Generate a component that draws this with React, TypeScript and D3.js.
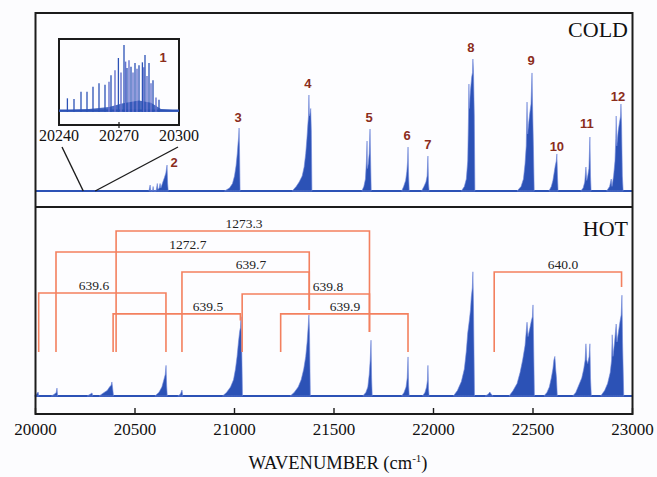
import React from "react";
import * as d3 from "d3";

// ---------- data ----------
const xTicks = [20000, 20500, 21000, 21500, 22000, 22500, 23000];
const insetTicks = [20240, 20270, 20300];

type P = [number, number];

// COLD spectrum band profiles [wavenumber, intensity]
const coldBand2: P[] = [[20570,0],[20576,0.04],[20579,0],[20588,0],[20591,0.03],[20594,0],[20606,0],[20612,0.05],[20615,0.01],[20622,0.02],[20626,0.05],[20630,0.02],[20640,0.06],[20648,0.09],[20655,0.12],[20661,0.173],[20664,0.05],[20667,0]];
const coldBand3: P[] = [[20950,0],[20975,0.02],[20990,0.05],[21000,0.1],[21008,0.17],[21014,0.25],[21018,0.32],[21021,0.36],[21023,0.42],[21025,0.3],[21028,0]];
const coldBand4: P[] = [[21290,0],[21310,0.03],[21325,0.06],[21340,0.1],[21350,0.16],[21358,0.25],[21364,0.35],[21369,0.45],[21372,0.5],[21374,0.64],[21376,0.5],[21380,0.52],[21383,0.55],[21386,0.4],[21389,0]];
const coldBand5: P[] = [[21640,0],[21650,0.03],[21658,0.08],[21663,0.2],[21666,0.333],[21668,0.15],[21672,0.18],[21677,0.25],[21681,0.413],[21684,0.2],[21687,0]];
const coldBand6: P[] = [[21840,0],[21850,0.03],[21860,0.07],[21866,0.13],[21870,0.2],[21872,0.293],[21875,0.1],[21878,0]];
const coldBand7: P[] = [[21940,0],[21952,0.03],[21962,0.06],[21968,0.1],[21972,0.233],[21975,0.05],[21978,0]];
const coldBand8: P[] = [[22140,0],[22155,0.03],[22165,0.08],[22172,0.2],[22176,0.5],[22178,0.713],[22180,0.55],[22185,0.66],[22192,0.76],[22196,0.79],[22198,0.88],[22201,0.8],[22205,0.5],[22208,0]];
const coldBand9: P[] = [[22420,0],[22440,0.03],[22452,0.08],[22460,0.18],[22466,0.3],[22470,0.593],[22473,0.38],[22478,0.45],[22484,0.52],[22490,0.58],[22495,0.787],[22498,0.56],[22502,0.3],[22506,0]];
const coldBand10: P[] = [[22580,0],[22592,0.03],[22600,0.07],[22606,0.12],[22612,0.17],[22617,0.2],[22620,0.247],[22623,0.1],[22626,0]];
const coldBand11: P[] = [[22740,0],[22752,0.02],[22760,0.06],[22766,0.16],[22770,0.07],[22775,0.1],[22781,0.15],[22786,0.36],[22789,0.1],[22792,0]];
const coldBand12: P[] = [[22870,0],[22885,0.03],[22893,0.08],[22897,0.03],[22905,0.1],[22912,0.2],[22916,0.35],[22918,0.5],[22921,0.3],[22928,0.4],[22935,0.46],[22940,0.5],[22942,0.58],[22945,0.45],[22949,0.1],[22953,0]];
const coldBands = [coldBand2, coldBand3, coldBand4, coldBand5, coldBand6, coldBand7, coldBand8, coldBand9, coldBand10, coldBand11, coldBand12];

// COLD band labels
const coldLabelText = ["2", "3", "4", "5", "6", "7", "8", "9", "10", "11", "12"];
const coldLabelWn = [20696, 21018, 21369, 21676, 21867, 21972, 22188, 22490, 22620, 22771, 22927];
const coldLabelI = [0.193, 0.493, 0.72, 0.487, 0.367, 0.313, 0.96, 0.867, 0.3, 0.453, 0.633];

// HOT spectrum band profiles
const hotBands: P[][] = [
  [[19995,0],[20005,0.01],[20013,0.022],[20017,0]],
  [[20080,0],[20095,0.01],[20104,0.02],[20108,0.044],[20111,0]],
  [[20260,0],[20275,0.01],[20284,0.017],[20288,0]],
  [[20320,0],[20345,0.02],[20360,0.03],[20372,0.05],[20380,0.06],[20384,0.078],[20388,0.04],[20392,0]],
  [[20600,0],[20620,0.02],[20635,0.05],[20645,0.09],[20652,0.12],[20656,0.17],[20659,0.06],[20662,0]],
  [[20715,0],[20728,0.01],[20736,0.033],[20740,0]],
  [[20940,0],[20960,0.02],[20980,0.05],[20995,0.09],[21005,0.15],[21013,0.22],[21020,0.3],[21026,0.36],[21030,0.38],[21033,0.44],[21036,0.3],[21040,0]],
  [[21280,0],[21300,0.02],[21320,0.05],[21335,0.09],[21348,0.15],[21358,0.22],[21365,0.3],[21370,0.38],[21374,0.45],[21377,0.35],[21381,0]],
  [[21645,0],[21660,0.02],[21670,0.05],[21677,0.12],[21682,0.2],[21686,0.31],[21689,0.1],[21692,0]],
  [[21840,0],[21852,0.02],[21862,0.05],[21868,0.1],[21872,0.217],[21875,0.06],[21878,0]],
  [[21945,0],[21957,0.02],[21965,0.05],[21970,0.09],[21972,0.17],[21975,0.04],[21978,0]],
  [[22100,0],[22120,0.03],[22140,0.08],[22155,0.15],[22165,0.25],[22172,0.35],[22180,0.42],[22186,0.48],[22190,0.55],[22195,0.6],[22198,0.69],[22201,0.5],[22206,0]],
  [[22260,0],[22275,0.01],[22283,0.022],[22290,0.01],[22300,0]],
  [[22380,0],[22400,0.03],[22420,0.07],[22435,0.13],[22448,0.2],[22460,0.28],[22470,0.41],[22475,0.33],[22485,0.38],[22492,0.42],[22497,0.44],[22500,0.506],[22503,0.3],[22507,0]],
  [[22555,0],[22570,0.02],[22582,0.05],[22592,0.1],[22600,0.15],[22605,0.2],[22610,0.22],[22614,0.15],[22618,0.1],[22622,0]],
  [[22700,0],[22715,0.02],[22730,0.06],[22745,0.1],[22755,0.15],[22762,0.2],[22766,0.29],[22770,0.2],[22775,0.18],[22782,0.22],[22786,0.29],[22789,0.1],[22793,0]],
  [[22840,0],[22860,0.03],[22875,0.07],[22888,0.13],[22895,0.2],[22898,0.34],[22902,0.22],[22910,0.3],[22918,0.4],[22922,0.3],[22930,0.36],[22938,0.42],[22943,0.45],[22947,0.56],[22950,0.3],[22956,0]],
];

// HOT progression brackets
const bracketLabel = ["1273.3", "1272.7", "639.7", "639.6", "639.8", "639.5", "639.9", "640.0"];
const bracketStart = [20405, 20103, 20736, 20016, 21038.5, 20390, 21232, 22305];
const bracketSpan = [1273.3, 1272.7, 639.7, 639.6, 639.8, 639.5, 639.9, 640.0];
const bracketLevel = [0.917, 0.8, 0.689, 0.572, 0.567, 0.456, 0.456, 0.689];
const bracketLeftEnd = [0.244, 0.244, 0.244, 0.244, 0.244, 0.244, 0.244, 0.244];
const bracketRightEnd = [0.356, 0.478, 0.478, 0.244, 0.356, 0.42, 0.244, 0.606];
const bracketLabelWn = [21048, 20766, 21083, 20294, 21470, 20867, 21555, 22651];

// Inset (band 1) rotational lines
const insetLineWn = [20244.2, 20247.5, 20251, 20254, 20257, 20260, 20263, 20266, 20269.7, 20272.5, 20274, 20276, 20278, 20280, 20281.7, 20283, 20285, 20287, 20290];
const insetLineI = [0.19, 0.18, 0.28, 0.28, 0.35, 0.4, 0.38, 0.51, 0.75, 0.93, 0.61, 0.63, 0.68, 0.65, 0.69, 0.79, 0.68, 0.44, 0.17];
const insetLine2Wn = [20265, 20268, 20271, 20273.3, 20275, 20277, 20279, 20282.4, 20284, 20286, 20288.5];
const insetLine2I = [0.42, 0.58, 0.55, 0.7, 0.72, 0.55, 0.6, 0.62, 0.5, 0.4, 0.2];
const insetEnvelope: P[] = [[20240,0.02],[20255,0.04],[20265,0.07],[20272,0.12],[20280,0.16],[20286,0.13],[20291,0.04],[20300,0.02]];

// ---------- styles ----------
const BLUE = "#2c52b6";
const BLUE_L = "#6f86da";
const PURPLE = "#6673cf";
const ORANGE = "#f3805f";
const DARKRED = "#8b2d1c";
const FRAME = "#1c1c1c";
const SERIF = "'Liberation Serif', 'Times New Roman', serif";
const SANS = "'Liberation Sans', Arial, sans-serif";

export default function App() {
  const W = 657, H = 477;
  const L = 35.5, R = 632.5, T = 13, MID = 207, B = 414;
  const x = d3.scaleLinear().domain([20000, 23000]).range([L, R]);
  const yC = d3.scaleLinear().domain([0, 1]).range([191, 41]);
  const yH = d3.scaleLinear().domain([0, 1]).range([396, 216]);
  const ix = d3.scaleLinear().domain([20240, 20300]).range([59, 179]);
  const iy = d3.scaleLinear().domain([0, 1]).range([112, 40]);

  const areaC = d3.area<P>().x(d => x(d[0])).y0(yC(0)).y1(d => yC(d[1]));
  const areaH = d3.area<P>().x(d => x(d[0])).y0(yH(0)).y1(d => yH(d[1]));
  const areaI = d3.area<P>().x(d => ix(d[0])).y0(iy(0)).y1(d => iy(d[1]));

  return (
    <svg width={W} height={H} style={{ position: "absolute", left: 0, top: 0, background: "#fcfcfe" }}>
      {/* panels */}
      <rect x={L} y={T} width={R - L} height={B - T} fill="#fdfdff" />
      {/* COLD spectrum */}
      <line x1={L} x2={R} y1={yC(0)} y2={yC(0)} stroke={BLUE} strokeWidth={1.8} />
      {coldBands.map((b, i) => (
        <path key={"c" + i} d={areaC(b) || ""} fill={BLUE} stroke={BLUE_L} strokeWidth={0.6} />
      ))}
      {coldLabelText.map((t, i) => (
        <text key={"cl" + i} x={x(coldLabelWn[i])} y={yC(coldLabelI[i])} textAnchor="middle" dominantBaseline="central"
          fontFamily={SANS} fontWeight="bold" fontSize={13} fill={DARKRED}>{t}</text>
      ))}
      <text x={628} y={37} textAnchor="end" fontFamily={SERIF} fontSize={22} fill="#111">COLD</text>

      {/* Inset */}
      <rect x={59} y={39} width={120} height={86} fill="#fdfdff" stroke={FRAME} strokeWidth={2} />
      <path d={areaI(insetEnvelope) || ""} fill={BLUE} opacity={0.85} />
      <line x1={ix(20240)} x2={ix(20300)} y1={iy(0.02)} y2={iy(0.02)} stroke={BLUE} strokeWidth={2} />
      {insetLine2Wn.map((w, i) => (
        <line key={"i2" + i} x1={ix(w)} x2={ix(w)} y1={iy(0)} y2={iy(insetLine2I[i])} stroke={PURPLE} strokeWidth={1.4} />
      ))}
      {insetLineWn.map((w, i) => (
        <line key={"i1" + i} x1={ix(w)} x2={ix(w)} y1={iy(0)} y2={iy(insetLineI[i])} stroke={BLUE} strokeWidth={1.3} />
      ))}
      <line x1={ix(20270)} x2={ix(20270)} y1={122} y2={128} stroke={FRAME} strokeWidth={1.2} />
      <text x={163} y={57} textAnchor="middle" dominantBaseline="central" fontFamily={SANS} fontWeight="bold" fontSize={13} fill={DARKRED}>1</text>
      {insetTicks.map(t => (
        <text key={"it" + t} x={ix(t)} y={141} textAnchor="middle" fontFamily={SERIF} fontSize={16} fill="#111">{t}</text>
      ))}
      <line x1={ix(20240) + 3} y1={147} x2={x(20240)} y2={yC(0)} stroke={FRAME} strokeWidth={1.4} />
      <line x1={ix(20300) - 1} y1={147} x2={x(20300)} y2={yC(0)} stroke={FRAME} strokeWidth={1.4} />

      {/* HOT spectrum */}
      <line x1={L} x2={R} y1={yH(0)} y2={yH(0)} stroke={BLUE} strokeWidth={1.8} />
      {hotBands.map((b, i) => (
        <path key={"h" + i} d={areaH(b) || ""} fill={BLUE} stroke={BLUE_L} strokeWidth={0.6} />
      ))}
      <text x={628} y={236} textAnchor="end" fontFamily={SERIF} fontSize={22} fill="#111">HOT</text>

      {/* brackets */}
      {bracketLabel.map((lab, i) => {
        const x0 = x(bracketStart[i]);
        const x1 = x(bracketStart[i] + bracketSpan[i]);
        const yl = yH(bracketLevel[i]);
        return (
          <g key={"b" + i}>
            <path d={`M${x0},${yH(bracketLeftEnd[i])}V${yl}H${x1}V${yH(bracketRightEnd[i])}`} fill="none" stroke={ORANGE} strokeWidth={1.6} />
            <text x={x(bracketLabelWn[i])} y={yl - 3} textAnchor="middle" fontFamily={SERIF} fontSize={13.5} fill="#222">{lab}</text>
          </g>
        );
      })}

      {/* frames */}
      <rect x={L} y={T} width={R - L} height={B - T} fill="none" stroke={FRAME} strokeWidth={2} />
      <line x1={L} x2={R} y1={MID} y2={MID} stroke={FRAME} strokeWidth={2.2} />

      {/* x axis */}
      {xTicks.map(t => (
        <g key={"t" + t}>
          <line x1={x(t)} x2={x(t)} y1={B} y2={B - 6} stroke={FRAME} strokeWidth={1.4} />
          <text x={x(t)} y={435} textAnchor="middle" fontFamily={SERIF} fontSize={17} fill="#111">{t}</text>
        </g>
      ))}
      <text x={338} y={469} textAnchor="middle" fontFamily={SERIF} fontSize={18.5} fill="#111">
        WAVENUMBER (cm<tspan dy={-7} fontSize={11}>-1</tspan><tspan dy={7}>)</tspan>
      </text>
    </svg>
  );
}
